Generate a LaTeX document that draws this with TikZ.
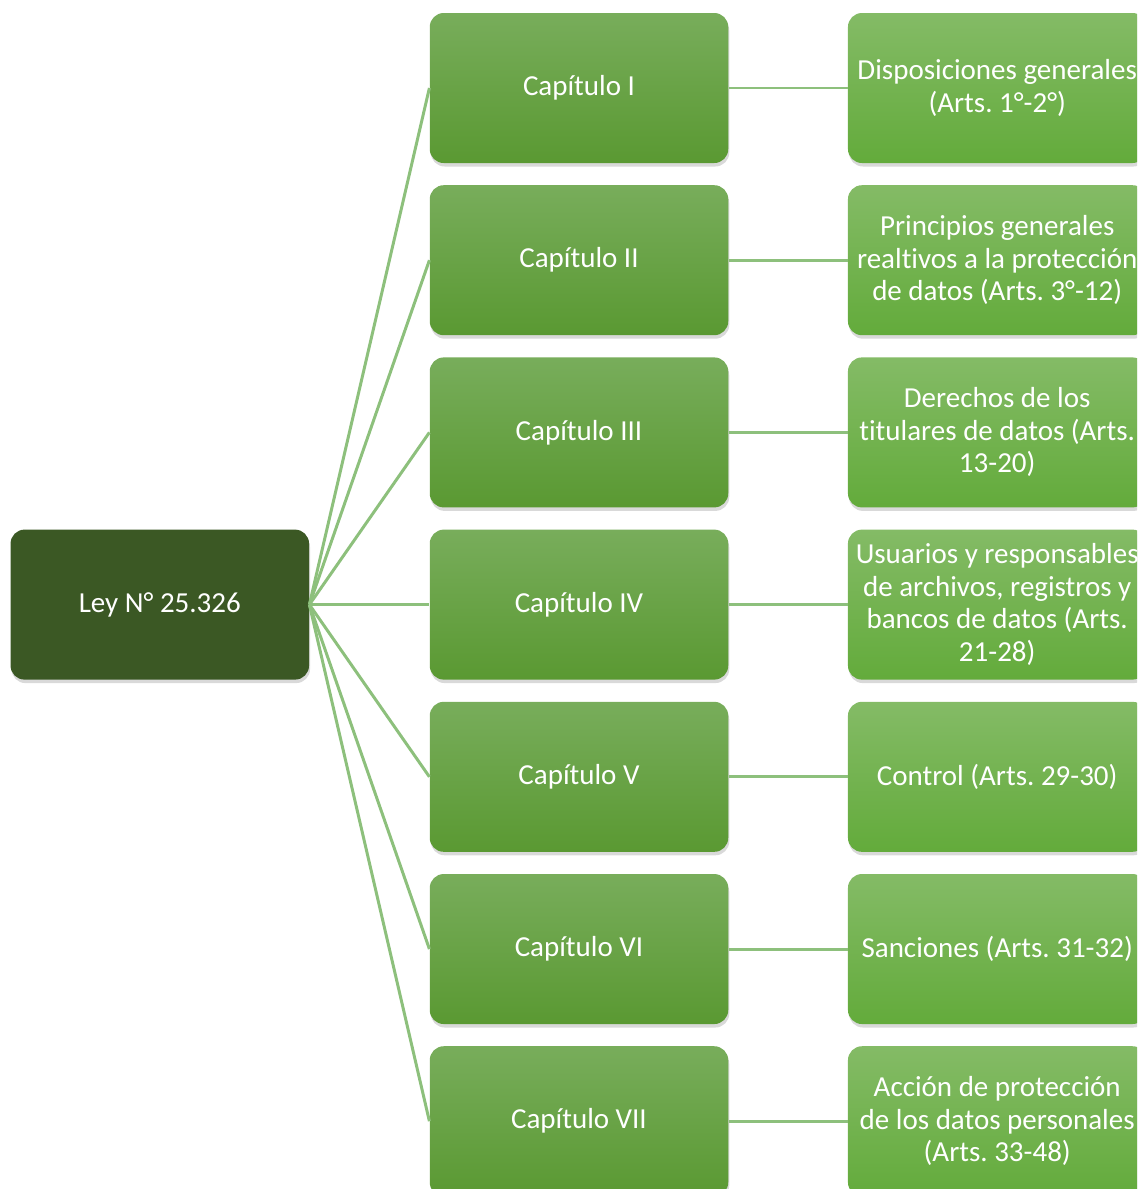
\documentclass[tikz,border=0pt]{standalone}
\usepackage{fontspec}
\setmainfont{Carlito}[Ligatures={NoCommon}]
\usepackage{tikz}
\usetikzlibrary{positioning}
\usetikzlibrary{shadows}
\frenchspacing

\definecolor{rootgreen}{RGB}{59,88,36}
\definecolor{captop}{RGB}{120,173,91}
\definecolor{capbot}{RGB}{90,153,50}
\definecolor{arttop}{RGB}{132,187,102}
\definecolor{artbot}{RGB}{99,171,59}
\definecolor{linkgreen}{RGB}{141,192,124}

\begin{document}
\begin{tikzpicture}

\tikzset{base box/.style={
		rounded corners=0.28cm,
		minimum width=5.97cm,
		minimum height=3cm,
		text=white,
		align=center,
		inner sep=0pt,
		font=\fontsize{16.5}{18.5}\selectfont,
		drop shadow={opacity=0.3, shadow xshift=0.02cm, shadow yshift=-0.07cm}
	},
	root box/.style={base box, fill=rootgreen},
	chapter box/.style={base box, top color=captop, bottom color=capbot},
	article box/.style={base box, top color=arttop, bottom color=artbot},
	link/.style={draw=linkgreen, line width=1.7pt}
}

\clip (0,0) rectangle (22.74,-23.78);
\useasboundingbox (0,0) rectangle (22.74,-23.78);

% chapters
\node[chapter box] (c1) at (11.58,-1.76) {Capítulo I};
\node[chapter box, below=0.43cm of c1] (c2) {Capítulo II};
\node[chapter box, below=0.43cm of c2] (c3) {Capítulo III};
\node[chapter box, below=0.43cm of c3] (c4) {Capítulo IV};
\node[chapter box, below=0.43cm of c4] (c5) {Capítulo V};
\node[chapter box, below=0.43cm of c5] (c6) {Capítulo VI};
\node[chapter box, below=0.43cm of c6] (c7) {Capítulo VII};

% law
\node[root box, left=2.4cm of c4] (ley) {Ley N° 25.326};

% articles
\node[article box, right=2.38cm of c1] (a1) {Disposiciones generales\\(Arts. 1°-2°)};
\node[article box, right=2.38cm of c2] (a2) {Principios generales\\realtivos a la protección\\de datos (Arts. 3°-12)};
\node[article box, right=2.38cm of c3] (a3) {Derechos de los\\titulares de datos (Arts.\\13-20)};
\node[article box, right=2.38cm of c4] (a4) {Usuarios y responsables\\de archivos, registros y\\bancos de datos (Arts.\\21-28)};
\node[article box, right=2.38cm of c5] (a5) {Control (Arts. 29-30)};
\node[article box, right=2.38cm of c6] (a6) {Sanciones (Arts. 31-32)};
\node[article box, right=2.38cm of c7] (a7) {Acción de protección\\de los datos personales\\(Arts. 33-48)};

\foreach \i in {1,...,7}{
	\draw[link] (ley.east) -- (c\i.west);
	\draw[link] (c\i.east) -- (a\i.west);
}

\end{tikzpicture}
\end{document}
